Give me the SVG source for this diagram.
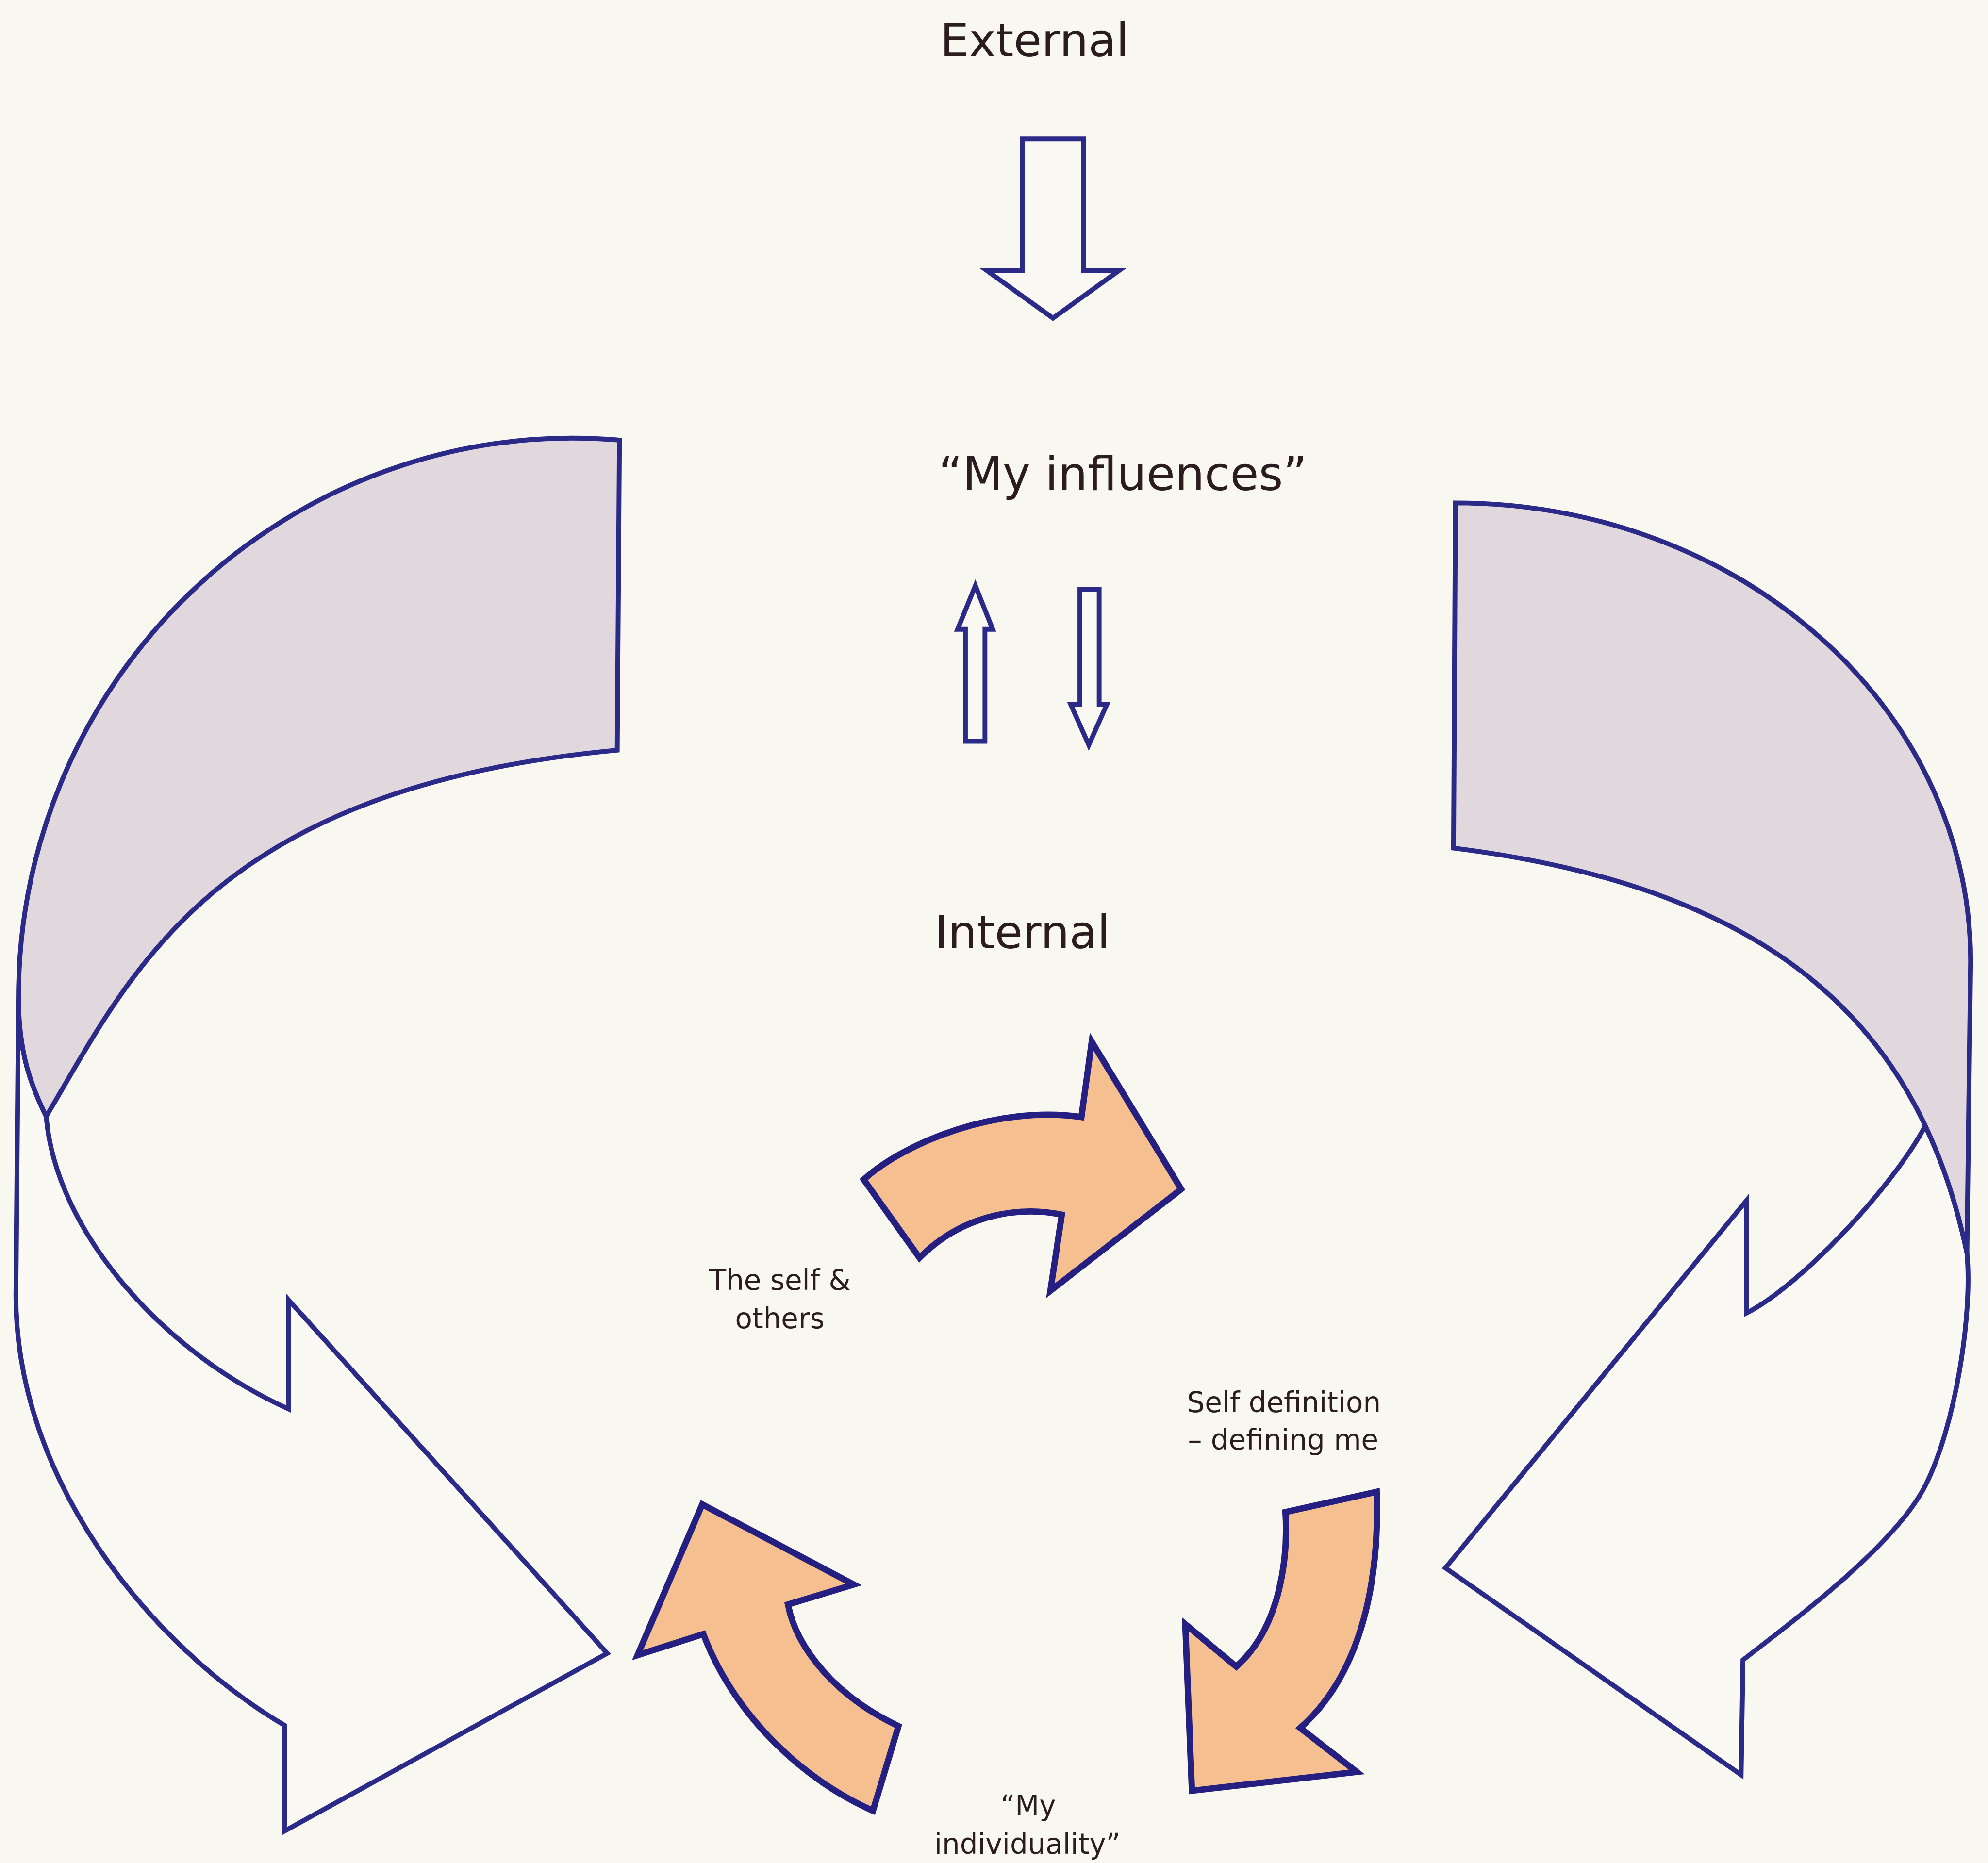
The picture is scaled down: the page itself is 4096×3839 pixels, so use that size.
<svg xmlns="http://www.w3.org/2000/svg" width="4096" height="3839" viewBox="0 0 4096 3839">
<defs>
<style>
.bg{fill:#f8f7f0}
.band{fill:#e1d8de;stroke:#2c2a88;stroke-width:13;stroke-linejoin:miter}
.hollow{fill:#faf9f3;stroke:#2c2a88;stroke-width:13;stroke-linejoin:miter}
.orange{fill:#f5bf90;stroke:#241f80;stroke-width:17;stroke-linejoin:miter}
.lbl{font-family:"DejaVu Sans","Liberation Sans",sans-serif;fill:#2b1d1f;text-anchor:middle}
.big{font-size:123px}
.small{font-size:76px}
</style>
</defs>
<rect class="bg" x="0" y="0" width="4096" height="3839"/>
<g transform="scale(0.76148)">
  <g id="connectors">
    <g id="arrow-external-down">
      <path class="hollow" d="M2766,376 L2932,376 L2932,732 L3028,732 L2849,861 L2670,732 L2766,732 Z"/>
    </g>
    <g id="arrow-up-small">
      <path class="hollow" d="M2639,1585 L2686,1703 L2665,1703 L2665,2006 L2612,2006 L2612,1703 L2591,1703 Z"/>
    </g>
    <g id="arrow-down-small">
      <path class="hollow" d="M2922,1595 L2974,1595 L2974,1906 L2995,1906 L2946,2016 L2897,1906 L2922,1906 Z"/>
    </g>
    <g id="ribbon-left">
      <path class="hollow" d="M50,2700 C50,2850 85,2940 125,3021 C150,3330 440,3660 781,3813 L781,3518 L1643,4474 L770,4955 L770,4669 C400,4450 43,4000 43,3507 Z"/>
      <path class="band" d="M1676,1191 L1670,2030 C570,2132 354,2637 125,3021 C85,2940 50,2850 50,2700 A1500 1514 0 0 1 1676,1191 Z"/>
    </g>
    <g id="ribbon-right">
      <path class="hollow" d="M5322,3390 C5338,3560 5290,3860 5210,4019 C5130,4178 4870,4373 4716,4492 L4711,4803 L3911,4243 L4726,3248 L4726,3553 C4870,3480 5120,3215 5209,3047 C5260,3152 5296,3267 5322,3390 Z"/>
      <path class="band" d="M3938,1361 L3933,2295 C4833,2407 5198,2803 5322,3390 L5332,2600 A1394 1240 0 0 0 3938,1361 Z"/>
    </g>
    <g id="arrow-orange-top">
      <path class="orange" d="M2337,3192 C2450,3090 2700,2990 2926,3023 L2954,2819 L3196,3218 L2842,3493 L2873,3287 C2750,3262 2600,3290 2488,3404 Z"/>
    </g>
    <g id="arrow-orange-right">
      <path class="orange" d="M3725,4037 L3478,4092 C3485,4200 3470,4400 3345,4510 L3207,4395 L3225,4846 L3671,4795 L3518,4676 C3650,4560 3735,4350 3725,4037 Z"/>
    </g>
    <g id="arrow-orange-left">
      <path class="orange" d="M1900,4071 L2310,4288 L2132,4342 C2155,4460 2260,4590 2431,4671 L2362,4900 C2180,4820 1990,4650 1903,4422 L1725,4479 Z"/>
    </g>
  </g>
  <g id="node-external"><text class="lbl big" x="2799" y="152">External</text></g>
  <g id="node-my-influences"><text class="lbl big" x="3038" y="1327" style="font-size:126px">“My influences”</text></g>
  <g id="node-internal"><text class="lbl big" x="2766" y="2566">Internal</text></g>
  <g id="node-self-others"><text class="lbl small" x="2110" y="3490">The self &amp;<tspan x="2110" y="3594">others</tspan></text></g>
  <g id="node-self-definition"><text class="lbl small" x="3474" y="3821">Self definition<tspan x="3472" y="3922">– defining me</tspan></text></g>
  <g id="node-my-individuality"><text class="lbl small" x="2782" y="4913">“My<tspan x="2780" y="5017">individuality”</tspan></text></g>
</g>
</svg>
